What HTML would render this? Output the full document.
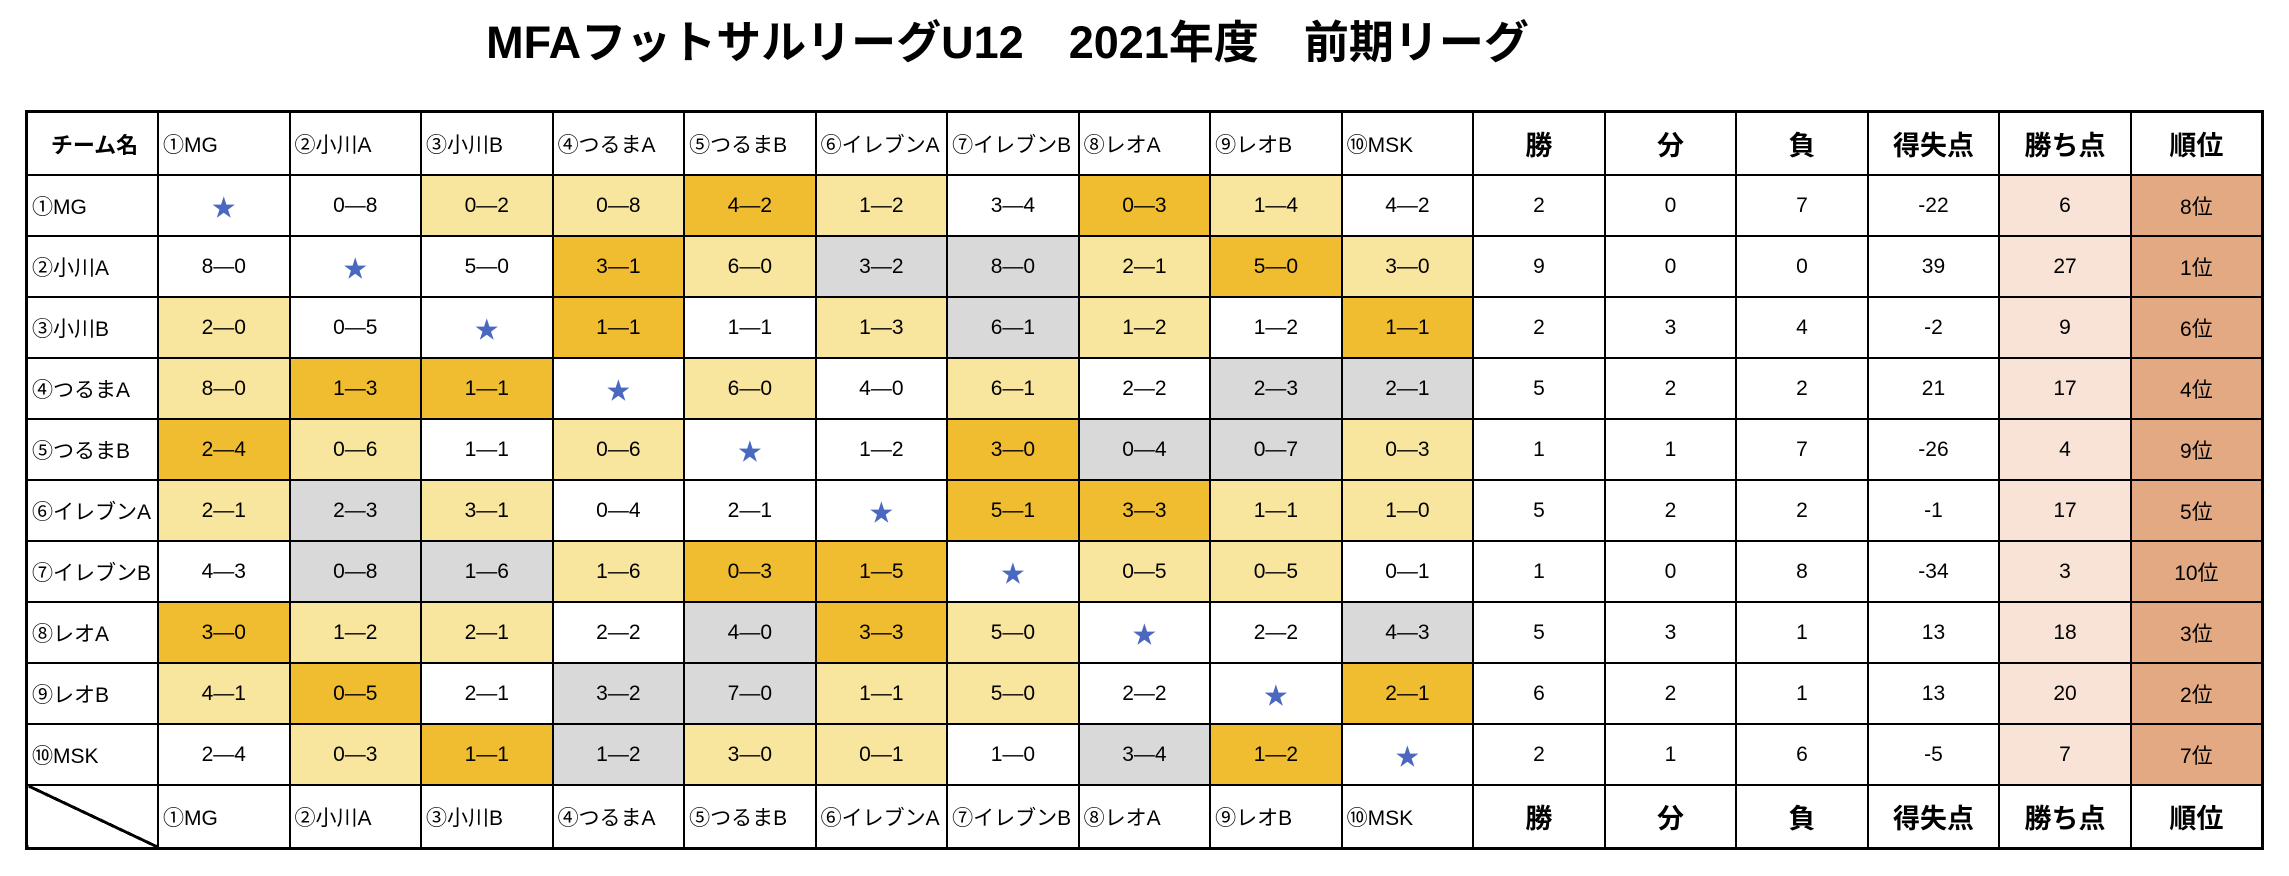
<!DOCTYPE html>
<html><head><meta charset="utf-8">
<style>
body{margin:0;width:2289px;height:876px;background:#fff;overflow:hidden;font-family:"Liberation Sans Narrow","Liberation Sans","Noto Sans CJK JP",sans-serif;}
h1{position:absolute;left:0;width:2015px;top:6px;margin:0;text-align:center;font-size:45px;font-weight:bold;font-family:"Liberation Sans","Noto Sans CJK JP",sans-serif;}
table{position:absolute;left:25px;top:110px;width:2239px;border-collapse:collapse;table-layout:fixed;border:3px solid #000;}
td{border:2px solid #000;height:59px;text-align:center;font-size:21px;padding:0;}
tr.h td{height:61px;font-size:21px;text-align:left;padding-left:4px;}
tr.h td.s{text-align:center;font-size:27px;font-weight:bold;padding:0;font-family:"Liberation Sans","Noto Sans CJK JP",sans-serif;}
tr.h td.n{text-align:center;font-weight:bold;font-size:22px;}
td.t{text-align:left;padding-left:4px;}
.L{background:#f8e59e}.G{background:#f0bd30}.X{background:#d9d9d9}.P{background:#f8e3d6}.O{background:#e3a983}
.st{color:#4a68c0;font-size:24px}
</style></head><body>
<h1>MFAフットサルリーグU12　2021年度　前期リーグ</h1>
<table>
<tr class="h"><td class="n">チーム名</td><td>①MG</td><td>②小川A</td><td>③小川B</td><td>④つるまA</td><td>⑤つるまB</td><td>⑥イレブンA</td><td>⑦イレブンB</td><td>⑧レオA</td><td>⑨レオB</td><td>⑩MSK</td><td class="s">勝</td><td class="s">分</td><td class="s">負</td><td class="s">得失点</td><td class="s">勝ち点</td><td class="s">順位</td></tr>
<tr><td class="t">①MG</td><td class="st">★</td><td>0—8</td><td class="L">0—2</td><td class="L">0—8</td><td class="G">4—2</td><td class="L">1—2</td><td>3—4</td><td class="G">0—3</td><td class="L">1—4</td><td>4—2</td><td>2</td><td>0</td><td>7</td><td>-22</td><td class="P">6</td><td class="O">8位</td></tr>
<tr><td class="t">②小川A</td><td>8—0</td><td class="st">★</td><td>5—0</td><td class="G">3—1</td><td class="L">6—0</td><td class="X">3—2</td><td class="X">8—0</td><td class="L">2—1</td><td class="G">5—0</td><td class="L">3—0</td><td>9</td><td>0</td><td>0</td><td>39</td><td class="P">27</td><td class="O">1位</td></tr>
<tr><td class="t">③小川B</td><td class="L">2—0</td><td>0—5</td><td class="st">★</td><td class="G">1—1</td><td>1—1</td><td class="L">1—3</td><td class="X">6—1</td><td class="L">1—2</td><td>1—2</td><td class="G">1—1</td><td>2</td><td>3</td><td>4</td><td>-2</td><td class="P">9</td><td class="O">6位</td></tr>
<tr><td class="t">④つるまA</td><td class="L">8—0</td><td class="G">1—3</td><td class="G">1—1</td><td class="st">★</td><td class="L">6—0</td><td>4—0</td><td class="L">6—1</td><td>2—2</td><td class="X">2—3</td><td class="X">2—1</td><td>5</td><td>2</td><td>2</td><td>21</td><td class="P">17</td><td class="O">4位</td></tr>
<tr><td class="t">⑤つるまB</td><td class="G">2—4</td><td class="L">0—6</td><td>1—1</td><td class="L">0—6</td><td class="st">★</td><td>1—2</td><td class="G">3—0</td><td class="X">0—4</td><td class="X">0—7</td><td class="L">0—3</td><td>1</td><td>1</td><td>7</td><td>-26</td><td class="P">4</td><td class="O">9位</td></tr>
<tr><td class="t">⑥イレブンA</td><td class="L">2—1</td><td class="X">2—3</td><td class="L">3—1</td><td>0—4</td><td>2—1</td><td class="st">★</td><td class="G">5—1</td><td class="G">3—3</td><td class="L">1—1</td><td class="L">1—0</td><td>5</td><td>2</td><td>2</td><td>-1</td><td class="P">17</td><td class="O">5位</td></tr>
<tr><td class="t">⑦イレブンB</td><td>4—3</td><td class="X">0—8</td><td class="X">1—6</td><td class="L">1—6</td><td class="G">0—3</td><td class="G">1—5</td><td class="st">★</td><td class="L">0—5</td><td class="L">0—5</td><td>0—1</td><td>1</td><td>0</td><td>8</td><td>-34</td><td class="P">3</td><td class="O">10位</td></tr>
<tr><td class="t">⑧レオA</td><td class="G">3—0</td><td class="L">1—2</td><td class="L">2—1</td><td>2—2</td><td class="X">4—0</td><td class="G">3—3</td><td class="L">5—0</td><td class="st">★</td><td>2—2</td><td class="X">4—3</td><td>5</td><td>3</td><td>1</td><td>13</td><td class="P">18</td><td class="O">3位</td></tr>
<tr><td class="t">⑨レオB</td><td class="L">4—1</td><td class="G">0—5</td><td>2—1</td><td class="X">3—2</td><td class="X">7—0</td><td class="L">1—1</td><td class="L">5—0</td><td>2—2</td><td class="st">★</td><td class="G">2—1</td><td>6</td><td>2</td><td>1</td><td>13</td><td class="P">20</td><td class="O">2位</td></tr>
<tr><td class="t">⑩MSK</td><td>2—4</td><td class="L">0—3</td><td class="G">1—1</td><td class="X">1—2</td><td class="L">3—0</td><td class="L">0—1</td><td>1—0</td><td class="X">3—4</td><td class="G">1—2</td><td class="st">★</td><td>2</td><td>1</td><td>6</td><td>-5</td><td class="P">7</td><td class="O">7位</td></tr>
<tr class="h"><td style="background:linear-gradient(to top right,transparent calc(50% - 1.5px),#000 calc(50% - 1.5px),#000 calc(50% + 1.5px),transparent calc(50% + 1.5px));"></td><td>①MG</td><td>②小川A</td><td>③小川B</td><td>④つるまA</td><td>⑤つるまB</td><td>⑥イレブンA</td><td>⑦イレブンB</td><td>⑧レオA</td><td>⑨レオB</td><td>⑩MSK</td><td class="s">勝</td><td class="s">分</td><td class="s">負</td><td class="s">得失点</td><td class="s">勝ち点</td><td class="s">順位</td></tr>
</table>
</body></html>
